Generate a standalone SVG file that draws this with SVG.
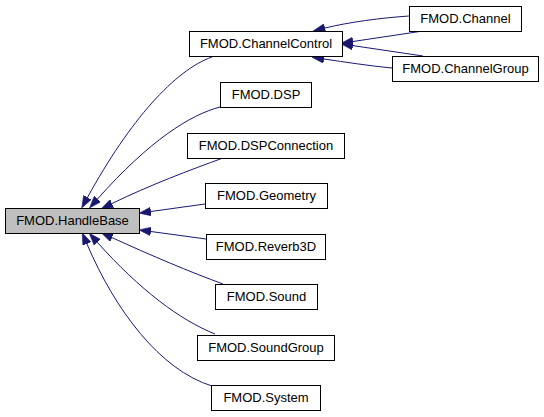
<svg xmlns="http://www.w3.org/2000/svg" width="544" height="417" viewBox="0 0 544 417">
<style>
.node rect{fill:#ffffff;stroke:#000000;stroke-width:1}
.node.base rect{fill:#bfbfbf}
.node text{font-family:"Liberation Sans",Arial,sans-serif;font-size:13px;fill:#000000;text-anchor:middle}
.edge{fill:none;stroke:#191970;stroke-width:1;marker-end:url(#arrow)}
</style>
<defs>
<marker id="arrow" markerUnits="userSpaceOnUse" markerWidth="12" markerHeight="9" viewBox="0 0 11 8" refX="0" refY="4" orient="auto">
<path d="M0,0 L11,4 L0,8 z" fill="#191970" stroke="#191970" stroke-width="0.5"/>
</marker>
</defs>
<rect width="544" height="417" fill="#ffffff"/>
<g id="connectors">
<path class="edge" d="M212,57 C175,70 130,120 87.5,197.4"/>
<path class="edge" d="M220,107 C190,115 150,140 97.5,199"/>
<path class="edge" d="M223,158 C190,170 150,185 112,203.5"/>
<path class="edge" d="M205,204 L150.9,211.5"/>
<path class="edge" d="M206,239 L150.9,231.5"/>
<path class="edge" d="M223,284 C190,272 150,255 112,237.6"/>
<path class="edge" d="M215,334 C180,320 140,290 97.3,242.3"/>
<path class="edge" d="M212,386 C160,370 115,310 86.9,243.8"/>
<path class="edge" d="M409,16 C380,18 350,22 325,28"/>
<path class="edge" d="M423,31 L353,41.5"/>
<path class="edge" d="M423,56 L352.9,45.6"/>
<path class="edge" d="M392,68 C370,66 345,62 324,59"/>
</g>
<g id="node-HandleBase" class="node base"><rect x="5.5" y="208.5" width="134" height="25"/><text x="72.5" y="225">FMOD.HandleBase</text></g>
<g id="node-ChannelControl" class="node"><rect x="189.5" y="31.5" width="153" height="25"/><text x="266" y="48">FMOD.ChannelControl</text></g>
<g id="node-Channel" class="node"><rect x="409.5" y="6.5" width="112" height="25"/><text x="465.5" y="23">FMOD.Channel</text></g>
<g id="node-ChannelGroup" class="node"><rect x="392.5" y="56.5" width="146" height="25"/><text x="465.5" y="73">FMOD.ChannelGroup</text></g>
<g id="node-DSP" class="node"><rect x="220.5" y="82.5" width="91" height="25"/><text x="266" y="99">FMOD.DSP</text></g>
<g id="node-DSPConnection" class="node"><rect x="187.5" y="133.5" width="157" height="25"/><text x="266" y="150">FMOD.DSPConnection</text></g>
<g id="node-Geometry" class="node"><rect x="205.5" y="183.5" width="122" height="25"/><text x="266.5" y="200">FMOD.Geometry</text></g>
<g id="node-Reverb3D" class="node"><rect x="206.5" y="234.5" width="119" height="25"/><text x="266" y="251">FMOD.Reverb3D</text></g>
<g id="node-Sound" class="node"><rect x="215.5" y="284.5" width="102" height="25"/><text x="266.5" y="301">FMOD.Sound</text></g>
<g id="node-SoundGroup" class="node"><rect x="197.5" y="335.5" width="137" height="25"/><text x="266" y="352">FMOD.SoundGroup</text></g>
<g id="node-System" class="node"><rect x="211.5" y="385.5" width="109" height="25"/><text x="266" y="402">FMOD.System</text></g>
</svg>
